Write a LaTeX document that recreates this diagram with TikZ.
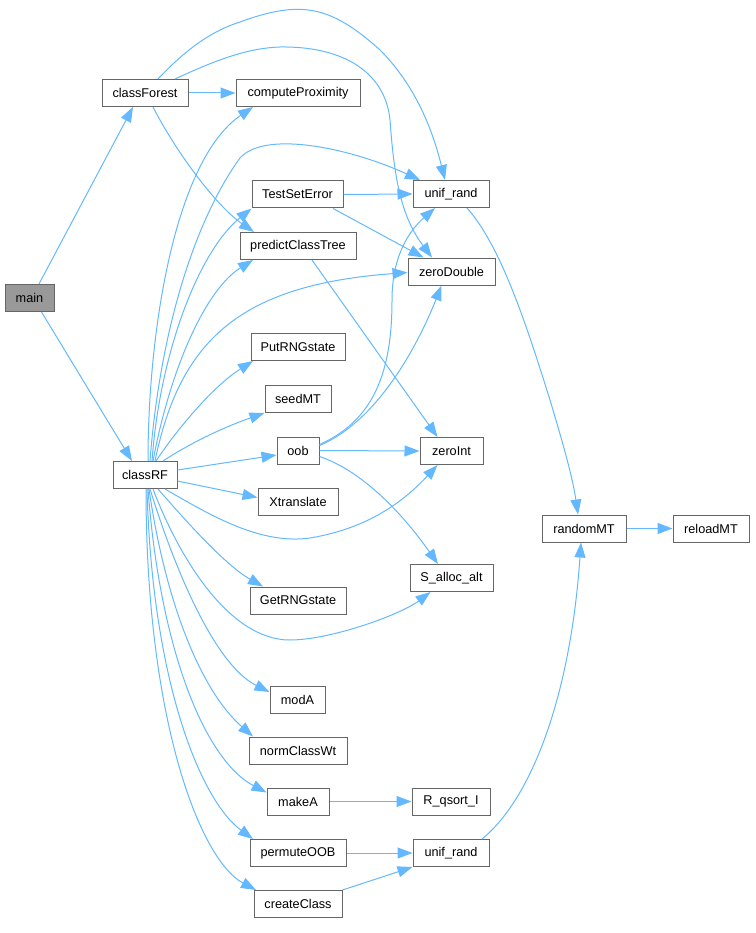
\documentclass[tikz,border=0pt]{standalone}
\usepackage{fontspec}
\setmainfont{Liberation Sans}
\usetikzlibrary{arrows.meta}
\definecolor{edgec}{HTML}{63B8FF}
\definecolor{bordc}{HTML}{666666}
\definecolor{mainfill}{HTML}{999999}
\tikzset{
 box/.style={draw=bordc, fill=white, line width=1pt, minimum height=27pt, inner sep=0pt, font=\fontsize{12.7}{14}\selectfont},
 call/.style={draw=edgec, line width=1pt, -{Triangle[length=15pt,width=11pt]}},
}
\begin{document}
\begin{tikzpicture}[x=1pt,y=-1pt]
\useasboundingbox (0,0) rectangle (755,933);
\node[box, fill=mainfill, minimum width=49pt] (main) at (29.5,298) {main};
\node[box, minimum width=86pt] (cF) at (145,93) {classForest};
\node[box, minimum width=124pt] (cP) at (298,93) {computeProximity};
\node[box, minimum width=91pt] (TSE) at (297.5,194.5) {TestSetError};
\node[box, minimum width=116pt] (pCT) at (298,246) {predictClassTree};
\node[box, minimum width=76pt] (ur1) at (451,194) {unif\_rand};
\node[box, minimum width=87pt] (zD) at (451.5,271.5) {zeroDouble};
\node[box, minimum width=94pt] (Put) at (298,347) {PutRNGstate};
\node[box, minimum width=66pt] (seed) at (298,399) {seedMT};
\node[box, minimum width=42pt] (oob) at (298,450.5) {oob};
\node[box, minimum width=63pt] (zI) at (451.5,451) {zeroInt};
\node[box, minimum width=64pt] (cRF) at (145,475) {classRF};
\node[box, minimum width=80pt] (Xt) at (298,501.5) {Xtranslate};
\node[box, minimum width=84pt] (rMT) at (584,528.5) {randomMT};
\node[box, minimum width=76pt] (rlMT) at (711,528.5) {reloadMT};
\node[box, minimum width=83pt] (Sa) at (451.5,578) {S\_alloc\_alt};
\node[box, minimum width=96pt] (Get) at (298,600.5) {GetRNGstate};
\node[box, minimum width=55pt] (modA) at (297.5,700) {modA};
\node[box, minimum width=98pt] (nCW) at (298,750.5) {normClassWt};
\node[box, minimum width=62pt] (mkA) at (298,801.5) {makeA};
\node[box, minimum width=78pt] (Rq) at (451,801.5) {R\_qsort\_I};
\node[box, minimum width=96pt] (pOOB) at (298,853) {permuteOOB};
\node[box, minimum width=76pt] (ur2) at (451,853) {unif\_rand};
\node[box, minimum width=88pt] (cC) at (298,904) {createClass};

% main
\draw[call] ([xshift=9.5]main.north) -- ([xshift=-12]cF.south);
\draw[call] ([xshift=12]main.south) -- ([xshift=-13]cRF.north);
% classForest
\draw[call] (cF.east) -- (cP.west);
\draw[call] ([xshift=8]cF.south) .. controls (175,150) and (215,205) .. ([xshift=-44]pCT.north);
\draw[call] ([xshift=13]cF.north) .. controls (190,45) and (215,30) .. (240,22) .. controls (300,0) and (330,5) .. (380,50) .. controls (420,90) and (435,140) .. ([xshift=-6]ur1.north);
\draw[call] ([xshift=30]cF.north) .. controls (220,58) and (250,48) .. (280,47) .. controls (340,46) and (385,70) .. (390,120) .. controls (394,175) and (400,215) .. ([xshift=-19.5]zD.north);
% classRF upward
\draw[call] ([xshift=3]cRF.north) .. controls (148,330) and (175,160) .. ([xshift=-45]cP.south);
\draw[call] ([xshift=5]cRF.north) .. controls (160,330) and (195,220) .. (240,158) .. controls (265,130) and (350,148) .. ([xshift=-31]ur1.north);
\draw[call] ([xshift=7]cRF.north) .. controls (160,350) and (200,250) .. (TSE.south west);
\draw[call] ([xshift=8]cRF.north) .. controls (170,370) and (205,290) .. ([xshift=-45]pCT.south);
\draw[call] ([xshift=10]cRF.north) .. controls (180,340) and (240,285) .. ([yshift=-1]zD.west);
\draw[call] ([xshift=11]cRF.north) .. controls (180,425) and (215,385) .. ([xshift=-45]Put.south);
\draw[call] ([xshift=18]cRF.north) .. controls (195,440) and (230,425) .. (seed.south west);
\draw[call] ([yshift=5]cRF.east) -- ([yshift=-4.5]oob.west);
\draw[call] ([yshift=-6]cRF.east) -- ([yshift=4]Xt.west);
% classRF downward
\draw[call] ([xshift=20]cRF.south) .. controls (210,515) and (260,545) .. (310,538) .. controls (370,528) and (405,500) .. ([xshift=-14]zI.south);
\draw[call] ([xshift=13]cRF.south) .. controls (185,520) and (225,565) .. ([xshift=-35]Get.north);
\draw[call] ([xshift=8]cRF.south) .. controls (180,560) and (230,640) .. (290,640) .. controls (330,640) and (400,615) .. ([xshift=-21]Sa.south);
\draw[call] ([xshift=5]cRF.south) .. controls (175,570) and (215,665) .. ([yshift=8]modA.west);
\draw[call] ([xshift=4]cRF.south) .. controls (165,600) and (200,690) .. ([xshift=-45]nCW.north);
\draw[call] ([xshift=3]cRF.south) .. controls (160,650) and (205,760) .. ([yshift=9]mkA.west);
\draw[call] ([xshift=2]cRF.south) .. controls (152,680) and (200,800) .. ([xshift=-45]pOOB.north);
\draw[call] ([xshift=1]cRF.south) .. controls (146,720) and (200,860) .. ([xshift=-42]cC.north);
% others
\draw[call] (TSE.east) -- (ur1.west);
\draw[call] ([xshift=35.5]TSE.south) -- ([xshift=-28]zD.north);
\draw[call] ([xshift=14]pCT.south) -- ([xshift=-14]zI.north);
\draw[call] ([yshift=6]oob.east) .. controls (375,420) and (392,370) .. (392,300) .. controls (392,255) and (410,230) .. ([xshift=-16]ur1.south);
\draw[call] ([yshift=5]oob.east) .. controls (380,420) and (420,340) .. ([xshift=-10]zD.south);
\draw[call] (oob.east) -- (zI.west);
\draw[call] ([yshift=-6]oob.east) .. controls (360,470) and (400,510) .. ([xshift=-13.5]Sa.north);
\draw[call] ([xshift=16]ur1.south) .. controls (500,245) and (525,320) .. (550,400) .. controls (565,450) and (573,480) .. ([xshift=-6]rMT.north);
\draw[call] (rMT.east) -- (rlMT.west);
\draw[call] (mkA.east) -- (Rq.west);
\draw[call] (pOOB.east) -- (ur2.west);
\draw[call] (cC.north east) -- (ur2.south west);
\draw[call] ([xshift=31]ur2.north) .. controls (530,800) and (570,700) .. ([xshift=-3]rMT.south);
\end{tikzpicture}
\end{document}
